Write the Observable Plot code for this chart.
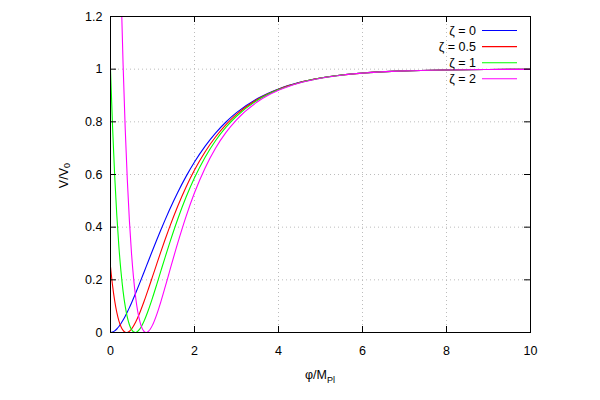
<!DOCTYPE html>
<html>
<head>
<meta charset="utf-8">
<script src="https://cdn.jsdelivr.net/npm/d3@7"></script>
<script src="https://cdn.jsdelivr.net/npm/@observablehq/plot@0.6"></script>
<style>
  html, body { margin: 0; padding: 0; background: #ffffff; }
  #chart { width: 600px; height: 400px; }
</style>
</head>
<body>
<div id="chart"></div>
<script>
// ---- data ----
const zetaLabels = ["ζ = 0", "ζ = 0.5", "ζ = 1", "ζ = 2"];
const lineColors = ["#0000ff", "#ff0000", "#00ff00", "#ff00ff"];

const phi = [0, 0.05, 0.1, 0.15, 0.2, 0.25, 0.3, 0.35, 0.4, 0.45, 0.5, 0.6, 0.7, 0.8, 0.9, 1.0, 1.1, 1.2, 1.3, 1.4, 1.6, 1.8, 2.0, 2.25, 2.5, 2.75, 3.0, 3.5, 4.0, 4.5, 5.0, 5.5, 6, 7, 8, 9, 10];

const vZeta0 = [0, 0.0016, 0.0062, 0.0133, 0.0227, 0.0341, 0.0472, 0.0618, 0.0776, 0.0945, 0.1123, 0.15, 0.1895, 0.23, 0.2708, 0.3114, 0.3513, 0.3902, 0.4278, 0.464, 0.5318, 0.5929, 0.6475, 0.7068, 0.7571, 0.7994, 0.8348, 0.8885, 0.9251, 0.9499, 0.9666, 0.9777, 0.9852, 0.9934, 0.9971, 0.9987, 0.9994];
const vZeta05 = [0.25, 0.1771, 0.1199, 0.0762, 0.0441, 0.0218, 0.0079, 0.0011, 0.0003, 0.0046, 0.013, 0.0398, 0.0761, 0.1185, 0.1644, 0.2119, 0.2598, 0.3071, 0.3531, 0.3973, 0.4796, 0.5529, 0.6171, 0.6856, 0.7425, 0.7894, 0.828, 0.8854, 0.9237, 0.9493, 0.9663, 0.9776, 0.9851, 0.9934, 0.9971, 0.9987, 0.9994];
const vZeta1 = [1, 0.7772, 0.5943, 0.4455, 0.3257, 0.2306, 0.1564, 0.0999, 0.0585, 0.0296, 0.0114, 0.0001, 0.0136, 0.0436, 0.0843, 0.1315, 0.1821, 0.234, 0.2856, 0.3358, 0.4302, 0.5143, 0.5875, 0.6648, 0.728, 0.7795, 0.8212, 0.8823, 0.9223, 0.9487, 0.966, 0.9775, 0.985, 0.9934, 0.9971, 0.9987, 0.9994];
const vZeta2 = [4, 3.2515, 2.6252, 2.103, 1.6695, 1.311, 1.0164, 0.7757, 0.5809, 0.4248, 0.3012, 0.1321, 0.0409, 0.0038, 0.0037, 0.028, 0.0681, 0.1175, 0.172, 0.2284, 0.3394, 0.4412, 0.5305, 0.6241, 0.6995, 0.7598, 0.8078, 0.8761, 0.9195, 0.9474, 0.9654, 0.9772, 0.9849, 0.9934, 0.9971, 0.9987, 0.9994];

// location of each curve's minimum (V = 0)
const phiMin = [0, 0.382, 0.589, 0.849];

const xTicks = [0, 2, 4, 6, 8, 10];
const yTicks = [0, 0.2, 0.4, 0.6, 0.8, 1, 1.2];

// ---- table for Plot ----
const seriesValues = [vZeta0, vZeta05, vZeta1, vZeta2];
const rows = [];
seriesValues.forEach((vals, k) => {
  const pts = phi.map((p, i) => ({phi: p, v: vals[i], z: zetaLabels[k]}));
  if (!phi.includes(phiMin[k])) pts.push({phi: phiMin[k], v: 0, z: zetaLabels[k]});
  pts.sort((a, b) => a.phi - b.phi);
  rows.push(...pts);
});

const W = 600, H = 400;
const mL = 110, mR = 70, mT = 16, mB = 68;
const innerW = W - mL - mR, innerH = H - mT - mB;
const tickLen = 6;
const font = "'Liberation Sans', Arial, sans-serif";
const fs = 12.5;

const chart = Plot.plot({
  width: W, height: H,
  marginLeft: mL, marginRight: mR, marginTop: mT, marginBottom: mB,
  style: {fontFamily: font, fontSize: fs + "px", background: "#ffffff", color: "#000000"},
  x: {domain: [0, 10]},
  y: {domain: [0, 1.2]},
  color: {domain: zetaLabels, range: lineColors},
  marks: [
    Plot.gridX(xTicks, {stroke: "#bcbcbc", strokeOpacity: 1, strokeDasharray: "1,3"}),
    Plot.gridY(yTicks, {stroke: "#bcbcbc", strokeOpacity: 1, strokeDasharray: "1,3"}),
    Plot.line(rows, {x: "phi", y: "v", z: "z", stroke: "z", curve: "monotone-x", strokeWidth: 1.1, clip: true}),
    Plot.frame({stroke: "#000000", strokeWidth: 1}),
    // inward tick marks on all four sides (gnuplot style)
    Plot.tickX(xTicks, {x: d => d, insetTop: innerH - tickLen, stroke: "#000000"}),
    Plot.tickX(xTicks, {x: d => d, insetBottom: innerH - tickLen, stroke: "#000000"}),
    Plot.tickY(yTicks, {y: d => d, insetRight: innerW - tickLen, stroke: "#000000"}),
    Plot.tickY(yTicks, {y: d => d, insetLeft: innerW - tickLen, stroke: "#000000"}),
    Plot.axisX(xTicks, {tickSize: 0, tickPadding: 14, label: null, tickFormat: d => String(d)}),
    Plot.axisY(yTicks, {tickSize: 0, tickPadding: 8, label: null, tickFormat: d => String(d)})
  ]
});

document.getElementById("chart").appendChild(chart);

// ---- axis titles and legend ----
const svg = d3.select(chart);

const yl = svg.append("text")
  .attr("transform", `translate(68,${mT + innerH * 0.505}) rotate(-90)`)
  .attr("text-anchor", "middle")
  .attr("font-family", font)
  .attr("font-size", fs)
  .attr("fill", "#000000");
yl.append("tspan").text("V/V");
yl.append("tspan").attr("font-size", 9).attr("dy", 2).text("0");

const xl = svg.append("text")
  .attr("x", mL + innerW / 2)
  .attr("y", 379)
  .attr("text-anchor", "middle")
  .attr("font-family", font)
  .attr("font-size", fs)
  .attr("fill", "#000000");
xl.append("tspan").text("φ/M");
xl.append("tspan").attr("font-size", 9).attr("dy", 3.5).text("Pl");

const legend = svg.append("g").attr("font-family", font).attr("font-size", fs);
zetaLabels.forEach((lab, i) => {
  const yy = 30.5 + i * 16.1;
  legend.append("text")
    .attr("x", 476).attr("y", yy + 4.5)
    .attr("text-anchor", "end")
    .attr("fill", "#000000")
    .text(lab);
  legend.append("line")
    .attr("x1", 482).attr("x2", 517)
    .attr("y1", yy).attr("y2", yy)
    .attr("stroke", lineColors[i])
    .attr("stroke-width", 1.1);
});
</script>
</body>
</html>
